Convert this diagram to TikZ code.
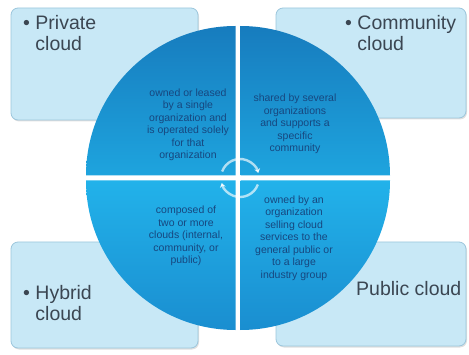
\documentclass[tikz,border=0pt]{standalone}
\usepackage{fontspec}
\setmainfont{Liberation Sans}
\usetikzlibrary{shadows,arrows.meta}
\definecolor{boxfill}{HTML}{C8E8F6}
\definecolor{boxline}{HTML}{9CC6DC}
\definecolor{labtext}{HTML}{3B4652}
\definecolor{qtext}{HTML}{17477F}
\definecolor{qdark}{HTML}{177CBE}
\definecolor{qmid}{HTML}{1EA4DE}
\definecolor{qlight}{HTML}{22B2EA}
\definecolor{qlow}{HTML}{1A8ED0}
\tikzset{
  cornerbox/.style={draw=boxline, fill=boxfill, rounded corners=7pt, line width=0.8pt,
    drop shadow={shadow xshift=1pt, shadow yshift=-1.5pt, opacity=0.25}},
  lab/.style={text=labtext, font=\fontsize{19.5}{21}\selectfont, align=left, inner sep=0pt},
  qlab/.style={text=qtext, font=\fontsize{10.5}{12.5}\selectfont, align=center, inner sep=0pt},
  cyc/.style={draw=white, draw opacity=0.65, line width=2.4pt, -{Stealth[length=4.5pt,width=6pt]}}
}
\begin{document}
\begin{tikzpicture}[x=1pt,y=1pt]
\useasboundingbox (0,0) rectangle (469,354);
% corner boxes
\path[cornerbox] (11,234) rectangle (198,346);
\path[cornerbox] (276,236) rectangle (466,346);
\path[cornerbox] (11,6) rectangle (198,112);
\path[cornerbox] (276,8) rectangle (466,112);
% quadrants
\def\r{152}
\coordinate (c) at (238,176);
\shade[top color=qdark, bottom color=qmid] ([shift={(2.5,2.5)}]c) -- ++(\r-2.5,0) arc[start angle=0,end angle=90,radius=\r-2.5] -- cycle;
\shade[top color=qdark, bottom color=qmid] ([shift={(-2.5,2.5)}]c) -- ++(0,\r-2.5) arc[start angle=90,end angle=180,radius=\r-2.5] -- cycle;
\shade[top color=qlight, bottom color=qlow] ([shift={(-2.5,-2.5)}]c) -- ++(-\r+2.5,0) arc[start angle=180,end angle=270,radius=\r-2.5] -- cycle;
\shade[top color=qlight, bottom color=qlow] ([shift={(2.5,-2.5)}]c) -- ++(0,-\r+2.5) arc[start angle=270,end angle=360,radius=\r-2.5] -- cycle;
% cycle arrows
\coordinate (ac) at (240,176);
\draw[cyc] ([shift={(160:19)}]ac) arc[start angle=160,end angle=15,radius=19];
\draw[cyc] ([shift={(-20:19)}]ac) arc[start angle=-20,end angle=-165,radius=19];
% labels
\node[lab, anchor=north west] (priv) at (23,339) {\textbullet\ Private\\\phantom{\textbullet\ }cloud};
\node[lab, anchor=north west] (comm) at (345,339) {\textbullet\ Community\\\phantom{\textbullet\ }cloud};
\node[lab, anchor=north west] (hyb) at (23,69) {\textbullet\ Hybrid\\\phantom{\textbullet\ }cloud};
\node[lab, anchor=base west] (pub) at (356,59) {Public cloud};
% quadrant texts
\node[qlab] (tl) at (188,229) {owned or leased\\by a single\\organization and\\is operated solely\\for that\\organization};
\node[qlab] (tr) at (295,230) {shared by several\\organizations\\and supports a\\specific\\community};
\node[qlab] (bl) at (186,118) {composed of\\two or more\\clouds (internal,\\community, or\\public)};
\node[qlab] (br) at (294,116) {owned by an\\organization\\selling cloud\\services to the\\general public or\\to a large\\industry group};
\end{tikzpicture}
\end{document}
